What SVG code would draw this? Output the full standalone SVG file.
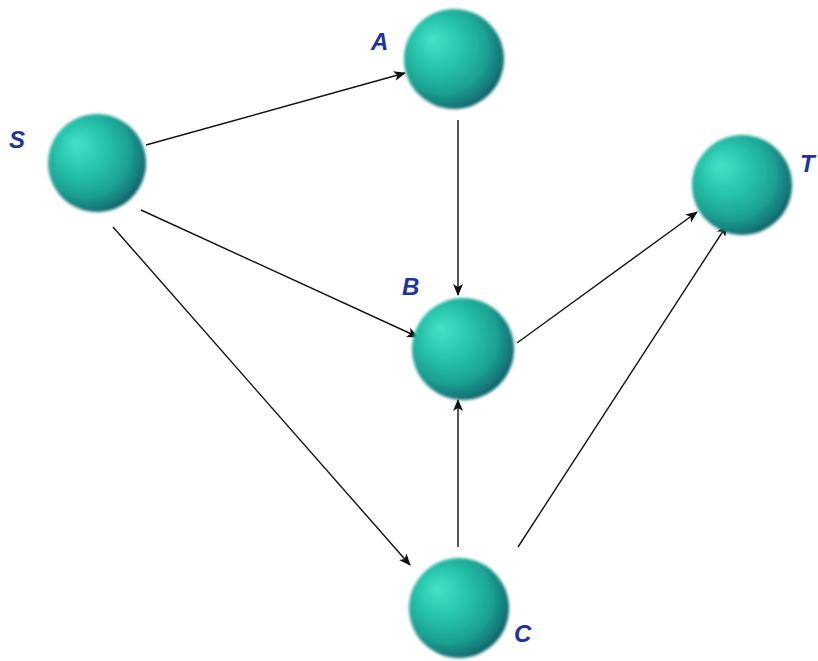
<svg xmlns="http://www.w3.org/2000/svg" width="818" height="661" viewBox="0 0 818 661">
<defs>
<radialGradient id="ball" cx="0.42" cy="0.42" r="0.62" fx="0.28" fy="0.3">
<stop offset="0" stop-color="#45e3c8"/>
<stop offset="0.4" stop-color="#27c4ab"/>
<stop offset="0.72" stop-color="#1ca293"/>
<stop offset="0.9" stop-color="#137a7a"/>
<stop offset="1" stop-color="#0e5a66"/>
</radialGradient>
<filter id="soft" x="-20%" y="-20%" width="140%" height="140%">
<feGaussianBlur stdDeviation="1.5"/>
</filter>
<marker id="arr" viewBox="0 0 12 10" refX="11" refY="5" markerWidth="12" markerHeight="10" markerUnits="userSpaceOnUse" orient="auto">
<path d="M0,0 L12,5 L0,10 L3,5 Z" fill="#111"/>
</marker>
<style>
.edge{stroke:#111;stroke-width:1.4;fill:none;marker-end:url(#arr)}
.lbl{font-family:"Liberation Sans",Arial,sans-serif;font-weight:bold;font-style:italic;font-size:24px;fill:#2232a0}
.ball{fill:url(#ball);filter:url(#soft)}
</style>
</defs>
<rect width="818" height="661" fill="#ffffff"/>
<g id="connectors">
<line class="edge" x1="146" y1="145" x2="405" y2="73"/>
<line class="edge" x1="458" y1="120" x2="458" y2="295"/>
<line class="edge" x1="141" y1="210" x2="418" y2="337"/>
<line class="edge" x1="113" y1="227" x2="410" y2="565"/>
<line class="edge" x1="517" y1="343" x2="697" y2="212"/>
<line class="edge" x1="458" y1="547" x2="458" y2="400"/>
<line class="edge" x1="518" y1="547" x2="727" y2="225"/>
</g>
<g id="node-S"><circle class="ball" cx="97" cy="163" r="49"/><text class="lbl" x="9" y="148">S</text></g>
<g id="node-A"><circle class="ball" cx="454" cy="59" r="50"/><text class="lbl" x="371" y="50">A</text></g>
<g id="node-B"><circle class="ball" cx="463" cy="349" r="51"/><text class="lbl" x="402" y="295">B</text></g>
<g id="node-C"><circle class="ball" cx="459" cy="608" r="50"/><text class="lbl" x="514" y="642">C</text></g>
<g id="node-T"><circle class="ball" cx="742" cy="185" r="50"/><text class="lbl" x="800" y="172">T</text></g>
</svg>
